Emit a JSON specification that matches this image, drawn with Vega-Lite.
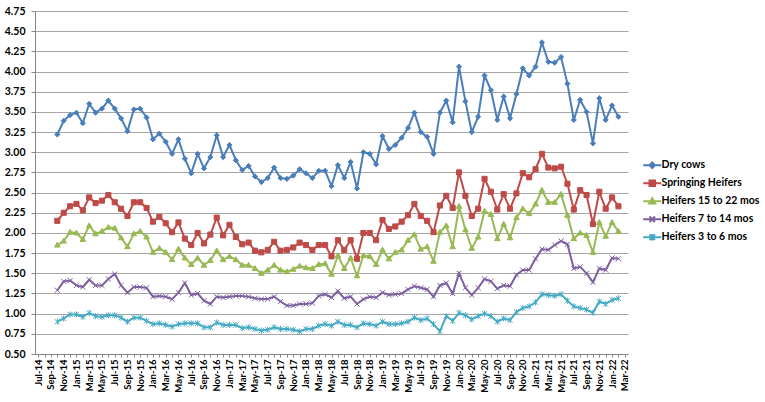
{
  "$schema": "https://vega.github.io/schema/vega-lite/v6.json",
  "description": "Monthly prices by cattle class, Oct-14 to Feb-22",
  "autosize": {"type": "none"},
  "padding": {"left": 35, "top": 11, "right": 137, "bottom": 48},
  "width": 593,
  "height": 343,
  "background": "white",
  "data": {
    "values": [
      {"month": "Oct-14", "Dry cows": 3.22, "Springing Heifers": 2.15, "Heifers  15 to 22 mos": 1.85, "Heifers  7 to 14 mos": 1.29, "Heifers 3 to 6 mos": 0.90},
      {"month": "Nov-14", "Dry cows": 3.39, "Springing Heifers": 2.25, "Heifers  15 to 22 mos": 1.90, "Heifers  7 to 14 mos": 1.40, "Heifers 3 to 6 mos": 0.94},
      {"month": "Dec-14", "Dry cows": 3.46, "Springing Heifers": 2.33, "Heifers  15 to 22 mos": 2.01, "Heifers  7 to 14 mos": 1.41, "Heifers 3 to 6 mos": 0.99},
      {"month": "Jan-15", "Dry cows": 3.49, "Springing Heifers": 2.36, "Heifers  15 to 22 mos": 2.00, "Heifers  7 to 14 mos": 1.35, "Heifers 3 to 6 mos": 0.99},
      {"month": "Feb-15", "Dry cows": 3.36, "Springing Heifers": 2.28, "Heifers  15 to 22 mos": 1.92, "Heifers  7 to 14 mos": 1.33, "Heifers 3 to 6 mos": 0.96},
      {"month": "Mar-15", "Dry cows": 3.60, "Springing Heifers": 2.44, "Heifers  15 to 22 mos": 2.09, "Heifers  7 to 14 mos": 1.42, "Heifers 3 to 6 mos": 1.01},
      {"month": "Apr-15", "Dry cows": 3.49, "Springing Heifers": 2.37, "Heifers  15 to 22 mos": 1.99, "Heifers  7 to 14 mos": 1.35, "Heifers 3 to 6 mos": 0.97},
      {"month": "May-15", "Dry cows": 3.54, "Springing Heifers": 2.40, "Heifers  15 to 22 mos": 2.02, "Heifers  7 to 14 mos": 1.35, "Heifers 3 to 6 mos": 0.96},
      {"month": "Jun-15", "Dry cows": 3.64, "Springing Heifers": 2.47, "Heifers  15 to 22 mos": 2.07, "Heifers  7 to 14 mos": 1.43, "Heifers 3 to 6 mos": 0.98},
      {"month": "Jul-15", "Dry cows": 3.54, "Springing Heifers": 2.38, "Heifers  15 to 22 mos": 2.06, "Heifers  7 to 14 mos": 1.49, "Heifers 3 to 6 mos": 0.98},
      {"month": "Aug-15", "Dry cows": 3.42, "Springing Heifers": 2.30, "Heifers  15 to 22 mos": 1.94, "Heifers  7 to 14 mos": 1.35, "Heifers 3 to 6 mos": 0.95},
      {"month": "Sep-15", "Dry cows": 3.26, "Springing Heifers": 2.21, "Heifers  15 to 22 mos": 1.83, "Heifers  7 to 14 mos": 1.26, "Heifers 3 to 6 mos": 0.90},
      {"month": "Oct-15", "Dry cows": 3.53, "Springing Heifers": 2.38, "Heifers  15 to 22 mos": 1.99, "Heifers  7 to 14 mos": 1.33, "Heifers 3 to 6 mos": 0.95},
      {"month": "Nov-15", "Dry cows": 3.54, "Springing Heifers": 2.38, "Heifers  15 to 22 mos": 2.02, "Heifers  7 to 14 mos": 1.33, "Heifers 3 to 6 mos": 0.95},
      {"month": "Dec-15", "Dry cows": 3.43, "Springing Heifers": 2.31, "Heifers  15 to 22 mos": 1.95, "Heifers  7 to 14 mos": 1.32, "Heifers 3 to 6 mos": 0.91},
      {"month": "Jan-16", "Dry cows": 3.16, "Springing Heifers": 2.14, "Heifers  15 to 22 mos": 1.76, "Heifers  7 to 14 mos": 1.21, "Heifers 3 to 6 mos": 0.87},
      {"month": "Feb-16", "Dry cows": 3.23, "Springing Heifers": 2.20, "Heifers  15 to 22 mos": 1.81, "Heifers  7 to 14 mos": 1.22, "Heifers 3 to 6 mos": 0.88},
      {"month": "Mar-16", "Dry cows": 3.13, "Springing Heifers": 2.12, "Heifers  15 to 22 mos": 1.76, "Heifers  7 to 14 mos": 1.21, "Heifers 3 to 6 mos": 0.86},
      {"month": "Apr-16", "Dry cows": 2.98, "Springing Heifers": 2.01, "Heifers  15 to 22 mos": 1.67, "Heifers  7 to 14 mos": 1.18, "Heifers 3 to 6 mos": 0.84},
      {"month": "May-16", "Dry cows": 3.16, "Springing Heifers": 2.13, "Heifers  15 to 22 mos": 1.80, "Heifers  7 to 14 mos": 1.26, "Heifers 3 to 6 mos": 0.87},
      {"month": "Jun-16", "Dry cows": 2.92, "Springing Heifers": 1.93, "Heifers  15 to 22 mos": 1.69, "Heifers  7 to 14 mos": 1.38, "Heifers 3 to 6 mos": 0.88},
      {"month": "Jul-16", "Dry cows": 2.74, "Springing Heifers": 1.85, "Heifers  15 to 22 mos": 1.61, "Heifers  7 to 14 mos": 1.23, "Heifers 3 to 6 mos": 0.88},
      {"month": "Aug-16", "Dry cows": 2.98, "Springing Heifers": 2.00, "Heifers  15 to 22 mos": 1.69, "Heifers  7 to 14 mos": 1.25, "Heifers 3 to 6 mos": 0.88},
      {"month": "Sep-16", "Dry cows": 2.80, "Springing Heifers": 1.87, "Heifers  15 to 22 mos": 1.60, "Heifers  7 to 14 mos": 1.16, "Heifers 3 to 6 mos": 0.83},
      {"month": "Oct-16", "Dry cows": 2.94, "Springing Heifers": 1.98, "Heifers  15 to 22 mos": 1.66, "Heifers  7 to 14 mos": 1.12, "Heifers 3 to 6 mos": 0.83},
      {"month": "Nov-16", "Dry cows": 3.21, "Springing Heifers": 2.19, "Heifers  15 to 22 mos": 1.78, "Heifers  7 to 14 mos": 1.21, "Heifers 3 to 6 mos": 0.89},
      {"month": "Dec-16", "Dry cows": 2.94, "Springing Heifers": 1.97, "Heifers  15 to 22 mos": 1.67, "Heifers  7 to 14 mos": 1.20, "Heifers 3 to 6 mos": 0.86},
      {"month": "Jan-17", "Dry cows": 3.09, "Springing Heifers": 2.10, "Heifers  15 to 22 mos": 1.71, "Heifers  7 to 14 mos": 1.21, "Heifers 3 to 6 mos": 0.86},
      {"month": "Feb-17", "Dry cows": 2.90, "Springing Heifers": 1.95, "Heifers  15 to 22 mos": 1.67, "Heifers  7 to 14 mos": 1.22, "Heifers 3 to 6 mos": 0.86},
      {"month": "Mar-17", "Dry cows": 2.78, "Springing Heifers": 1.86, "Heifers  15 to 22 mos": 1.60, "Heifers  7 to 14 mos": 1.22, "Heifers 3 to 6 mos": 0.82},
      {"month": "Apr-17", "Dry cows": 2.83, "Springing Heifers": 1.88, "Heifers  15 to 22 mos": 1.60, "Heifers  7 to 14 mos": 1.21, "Heifers 3 to 6 mos": 0.83},
      {"month": "May-17", "Dry cows": 2.70, "Springing Heifers": 1.78, "Heifers  15 to 22 mos": 1.56, "Heifers  7 to 14 mos": 1.19, "Heifers 3 to 6 mos": 0.81},
      {"month": "Jun-17", "Dry cows": 2.63, "Springing Heifers": 1.76, "Heifers  15 to 22 mos": 1.50, "Heifers  7 to 14 mos": 1.18, "Heifers 3 to 6 mos": 0.79},
      {"month": "Jul-17", "Dry cows": 2.68, "Springing Heifers": 1.79, "Heifers  15 to 22 mos": 1.54, "Heifers  7 to 14 mos": 1.18, "Heifers 3 to 6 mos": 0.80},
      {"month": "Aug-17", "Dry cows": 2.81, "Springing Heifers": 1.89, "Heifers  15 to 22 mos": 1.60, "Heifers  7 to 14 mos": 1.21, "Heifers 3 to 6 mos": 0.83},
      {"month": "Sep-17", "Dry cows": 2.68, "Springing Heifers": 1.78, "Heifers  15 to 22 mos": 1.54, "Heifers  7 to 14 mos": 1.15, "Heifers 3 to 6 mos": 0.81},
      {"month": "Oct-17", "Dry cows": 2.67, "Springing Heifers": 1.79, "Heifers  15 to 22 mos": 1.52, "Heifers  7 to 14 mos": 1.10, "Heifers 3 to 6 mos": 0.81},
      {"month": "Nov-17", "Dry cows": 2.71, "Springing Heifers": 1.82, "Heifers  15 to 22 mos": 1.55, "Heifers  7 to 14 mos": 1.10, "Heifers 3 to 6 mos": 0.80},
      {"month": "Dec-17", "Dry cows": 2.79, "Springing Heifers": 1.88, "Heifers  15 to 22 mos": 1.59, "Heifers  7 to 14 mos": 1.12, "Heifers 3 to 6 mos": 0.78},
      {"month": "Jan-18", "Dry cows": 2.74, "Springing Heifers": 1.85, "Heifers  15 to 22 mos": 1.57, "Heifers  7 to 14 mos": 1.12, "Heifers 3 to 6 mos": 0.81},
      {"month": "Feb-18", "Dry cows": 2.68, "Springing Heifers": 1.79, "Heifers  15 to 22 mos": 1.56, "Heifers  7 to 14 mos": 1.13, "Heifers 3 to 6 mos": 0.81},
      {"month": "Mar-18", "Dry cows": 2.77, "Springing Heifers": 1.85, "Heifers  15 to 22 mos": 1.61, "Heifers  7 to 14 mos": 1.22, "Heifers 3 to 6 mos": 0.85},
      {"month": "Apr-18", "Dry cows": 2.77, "Springing Heifers": 1.85, "Heifers  15 to 22 mos": 1.62, "Heifers  7 to 14 mos": 1.24, "Heifers 3 to 6 mos": 0.87},
      {"month": "May-18", "Dry cows": 2.58, "Springing Heifers": 1.71, "Heifers  15 to 22 mos": 1.49, "Heifers  7 to 14 mos": 1.20, "Heifers 3 to 6 mos": 0.85},
      {"month": "Jun-18", "Dry cows": 2.84, "Springing Heifers": 1.91, "Heifers  15 to 22 mos": 1.72, "Heifers  7 to 14 mos": 1.28, "Heifers 3 to 6 mos": 0.90},
      {"month": "Jul-18", "Dry cows": 2.68, "Springing Heifers": 1.79, "Heifers  15 to 22 mos": 1.56, "Heifers  7 to 14 mos": 1.19, "Heifers 3 to 6 mos": 0.86},
      {"month": "Aug-18", "Dry cows": 2.88, "Springing Heifers": 1.91, "Heifers  15 to 22 mos": 1.69, "Heifers  7 to 14 mos": 1.21, "Heifers 3 to 6 mos": 0.86},
      {"month": "Sep-18", "Dry cows": 2.55, "Springing Heifers": 1.68, "Heifers  15 to 22 mos": 1.47, "Heifers  7 to 14 mos": 1.12, "Heifers 3 to 6 mos": 0.83},
      {"month": "Oct-18", "Dry cows": 3.00, "Springing Heifers": 2.00, "Heifers  15 to 22 mos": 1.72, "Heifers  7 to 14 mos": 1.18, "Heifers 3 to 6 mos": 0.88},
      {"month": "Nov-18", "Dry cows": 2.98, "Springing Heifers": 2.00, "Heifers  15 to 22 mos": 1.71, "Heifers  7 to 14 mos": 1.21, "Heifers 3 to 6 mos": 0.87},
      {"month": "Dec-18", "Dry cows": 2.85, "Springing Heifers": 1.91, "Heifers  15 to 22 mos": 1.61, "Heifers  7 to 14 mos": 1.20, "Heifers 3 to 6 mos": 0.85},
      {"month": "Jan-19", "Dry cows": 3.20, "Springing Heifers": 2.16, "Heifers  15 to 22 mos": 1.79, "Heifers  7 to 14 mos": 1.26, "Heifers 3 to 6 mos": 0.90},
      {"month": "Feb-19", "Dry cows": 3.04, "Springing Heifers": 2.05, "Heifers  15 to 22 mos": 1.68, "Heifers  7 to 14 mos": 1.23, "Heifers 3 to 6 mos": 0.87},
      {"month": "Mar-19", "Dry cows": 3.09, "Springing Heifers": 2.08, "Heifers  15 to 22 mos": 1.76, "Heifers  7 to 14 mos": 1.24, "Heifers 3 to 6 mos": 0.87},
      {"month": "Apr-19", "Dry cows": 3.18, "Springing Heifers": 2.14, "Heifers  15 to 22 mos": 1.79, "Heifers  7 to 14 mos": 1.25, "Heifers 3 to 6 mos": 0.88},
      {"month": "May-19", "Dry cows": 3.30, "Springing Heifers": 2.22, "Heifers  15 to 22 mos": 1.91, "Heifers  7 to 14 mos": 1.30, "Heifers 3 to 6 mos": 0.90},
      {"month": "Jun-19", "Dry cows": 3.49, "Springing Heifers": 2.36, "Heifers  15 to 22 mos": 1.98, "Heifers  7 to 14 mos": 1.34, "Heifers 3 to 6 mos": 0.95},
      {"month": "Jul-19", "Dry cows": 3.25, "Springing Heifers": 2.21, "Heifers  15 to 22 mos": 1.80, "Heifers  7 to 14 mos": 1.32, "Heifers 3 to 6 mos": 0.92},
      {"month": "Aug-19", "Dry cows": 3.19, "Springing Heifers": 2.15, "Heifers  15 to 22 mos": 1.83, "Heifers  7 to 14 mos": 1.30, "Heifers 3 to 6 mos": 0.94},
      {"month": "Sep-19", "Dry cows": 2.98, "Springing Heifers": 2.01, "Heifers  15 to 22 mos": 1.65, "Heifers  7 to 14 mos": 1.21, "Heifers 3 to 6 mos": 0.87},
      {"month": "Oct-19", "Dry cows": 3.49, "Springing Heifers": 2.34, "Heifers  15 to 22 mos": 2.01, "Heifers  7 to 14 mos": 1.35, "Heifers 3 to 6 mos": 0.78},
      {"month": "Nov-19", "Dry cows": 3.64, "Springing Heifers": 2.46, "Heifers  15 to 22 mos": 2.09, "Heifers  7 to 14 mos": 1.38, "Heifers 3 to 6 mos": 0.97},
      {"month": "Dec-19", "Dry cows": 3.37, "Springing Heifers": 2.31, "Heifers  15 to 22 mos": 1.83, "Heifers  7 to 14 mos": 1.25, "Heifers 3 to 6 mos": 0.91},
      {"month": "Jan-20", "Dry cows": 4.06, "Springing Heifers": 2.75, "Heifers  15 to 22 mos": 2.33, "Heifers  7 to 14 mos": 1.50, "Heifers 3 to 6 mos": 1.01},
      {"month": "Feb-20", "Dry cows": 3.63, "Springing Heifers": 2.46, "Heifers  15 to 22 mos": 2.04, "Heifers  7 to 14 mos": 1.32, "Heifers 3 to 6 mos": 0.98},
      {"month": "Mar-20", "Dry cows": 3.25, "Springing Heifers": 2.21, "Heifers  15 to 22 mos": 1.81, "Heifers  7 to 14 mos": 1.23, "Heifers 3 to 6 mos": 0.93},
      {"month": "Apr-20", "Dry cows": 3.44, "Springing Heifers": 2.30, "Heifers  15 to 22 mos": 1.95, "Heifers  7 to 14 mos": 1.32, "Heifers 3 to 6 mos": 0.97},
      {"month": "May-20", "Dry cows": 3.95, "Springing Heifers": 2.67, "Heifers  15 to 22 mos": 2.27, "Heifers  7 to 14 mos": 1.43, "Heifers 3 to 6 mos": 1.00},
      {"month": "Jun-20", "Dry cows": 3.77, "Springing Heifers": 2.51, "Heifers  15 to 22 mos": 2.23, "Heifers  7 to 14 mos": 1.40, "Heifers 3 to 6 mos": 0.97},
      {"month": "Jul-20", "Dry cows": 3.40, "Springing Heifers": 2.29, "Heifers  15 to 22 mos": 1.93, "Heifers  7 to 14 mos": 1.31, "Heifers 3 to 6 mos": 0.90},
      {"month": "Aug-20", "Dry cows": 3.69, "Springing Heifers": 2.48, "Heifers  15 to 22 mos": 2.11, "Heifers  7 to 14 mos": 1.35, "Heifers 3 to 6 mos": 0.94},
      {"month": "Sep-20", "Dry cows": 3.42, "Springing Heifers": 2.30, "Heifers  15 to 22 mos": 1.94, "Heifers  7 to 14 mos": 1.34, "Heifers 3 to 6 mos": 0.92},
      {"month": "Oct-20", "Dry cows": 3.72, "Springing Heifers": 2.49, "Heifers  15 to 22 mos": 2.19, "Heifers  7 to 14 mos": 1.48, "Heifers 3 to 6 mos": 1.02},
      {"month": "Nov-20", "Dry cows": 4.04, "Springing Heifers": 2.74, "Heifers  15 to 22 mos": 2.30, "Heifers  7 to 14 mos": 1.54, "Heifers 3 to 6 mos": 1.07},
      {"month": "Dec-20", "Dry cows": 3.95, "Springing Heifers": 2.69, "Heifers  15 to 22 mos": 2.24, "Heifers  7 to 14 mos": 1.54, "Heifers 3 to 6 mos": 1.09},
      {"month": "Jan-21", "Dry cows": 4.06, "Springing Heifers": 2.79, "Heifers  15 to 22 mos": 2.36, "Heifers  7 to 14 mos": 1.68, "Heifers 3 to 6 mos": 1.14},
      {"month": "Feb-21", "Dry cows": 4.36, "Springing Heifers": 2.98, "Heifers  15 to 22 mos": 2.53, "Heifers  7 to 14 mos": 1.80, "Heifers 3 to 6 mos": 1.24},
      {"month": "Mar-21", "Dry cows": 4.12, "Springing Heifers": 2.81, "Heifers  15 to 22 mos": 2.38, "Heifers  7 to 14 mos": 1.79, "Heifers 3 to 6 mos": 1.23},
      {"month": "Apr-21", "Dry cows": 4.11, "Springing Heifers": 2.80, "Heifers  15 to 22 mos": 2.38, "Heifers  7 to 14 mos": 1.85, "Heifers 3 to 6 mos": 1.22},
      {"month": "May-21", "Dry cows": 4.18, "Springing Heifers": 2.82, "Heifers  15 to 22 mos": 2.48, "Heifers  7 to 14 mos": 1.90, "Heifers 3 to 6 mos": 1.24},
      {"month": "Jun-21", "Dry cows": 3.85, "Springing Heifers": 2.61, "Heifers  15 to 22 mos": 2.22, "Heifers  7 to 14 mos": 1.86, "Heifers 3 to 6 mos": 1.16},
      {"month": "Jul-21", "Dry cows": 3.40, "Springing Heifers": 2.29, "Heifers  15 to 22 mos": 1.93, "Heifers  7 to 14 mos": 1.56, "Heifers 3 to 6 mos": 1.09},
      {"month": "Aug-21", "Dry cows": 3.65, "Springing Heifers": 2.53, "Heifers  15 to 22 mos": 2.00, "Heifers  7 to 14 mos": 1.58, "Heifers 3 to 6 mos": 1.07},
      {"month": "Sep-21", "Dry cows": 3.50, "Springing Heifers": 2.47, "Heifers  15 to 22 mos": 1.97, "Heifers  7 to 14 mos": 1.50, "Heifers 3 to 6 mos": 1.05},
      {"month": "Oct-21", "Dry cows": 3.11, "Springing Heifers": 2.11, "Heifers  15 to 22 mos": 1.76, "Heifers  7 to 14 mos": 1.39, "Heifers 3 to 6 mos": 1.01},
      {"month": "Nov-21", "Dry cows": 3.67, "Springing Heifers": 2.51, "Heifers  15 to 22 mos": 2.13, "Heifers  7 to 14 mos": 1.56, "Heifers 3 to 6 mos": 1.15},
      {"month": "Dec-21", "Dry cows": 3.40, "Springing Heifers": 2.30, "Heifers  15 to 22 mos": 1.96, "Heifers  7 to 14 mos": 1.54, "Heifers 3 to 6 mos": 1.12},
      {"month": "Jan-22", "Dry cows": 3.58, "Springing Heifers": 2.44, "Heifers  15 to 22 mos": 2.13, "Heifers  7 to 14 mos": 1.69, "Heifers 3 to 6 mos": 1.17},
      {"month": "Feb-22", "Dry cows": 3.44, "Springing Heifers": 2.33, "Heifers  15 to 22 mos": 2.02, "Heifers  7 to 14 mos": 1.68, "Heifers 3 to 6 mos": 1.19}
    ]
  },
  "transform": [
    {
      "fold": ["Dry cows", "Springing Heifers", "Heifers  15 to 22 mos", "Heifers  7 to 14 mos", "Heifers 3 to 6 mos"],
      "as": ["series", "price"]
    }
  ],
  "encoding": {
    "x": {
      "field": "month",
      "type": "ordinal",
      "title": null,
      "scale": {
        "type": "point",
        "padding": 0.5,
        "domain": [
          "Jul-14", "Aug-14", "Sep-14", "Oct-14", "Nov-14", "Dec-14",
          "Jan-15", "Feb-15", "Mar-15", "Apr-15", "May-15", "Jun-15", "Jul-15", "Aug-15", "Sep-15", "Oct-15", "Nov-15", "Dec-15",
          "Jan-16", "Feb-16", "Mar-16", "Apr-16", "May-16", "Jun-16", "Jul-16", "Aug-16", "Sep-16", "Oct-16", "Nov-16", "Dec-16",
          "Jan-17", "Feb-17", "Mar-17", "Apr-17", "May-17", "Jun-17", "Jul-17", "Aug-17", "Sep-17", "Oct-17", "Nov-17", "Dec-17",
          "Jan-18", "Feb-18", "Mar-18", "Apr-18", "May-18", "Jun-18", "Jul-18", "Aug-18", "Sep-18", "Oct-18", "Nov-18", "Dec-18",
          "Jan-19", "Feb-19", "Mar-19", "Apr-19", "May-19", "Jun-19", "Jul-19", "Aug-19", "Sep-19", "Oct-19", "Nov-19", "Dec-19",
          "Jan-20", "Feb-20", "Mar-20", "Apr-20", "May-20", "Jun-20", "Jul-20", "Aug-20", "Sep-20", "Oct-20", "Nov-20", "Dec-20",
          "Jan-21", "Feb-21", "Mar-21", "Apr-21", "May-21", "Jun-21", "Jul-21", "Aug-21", "Sep-21", "Oct-21", "Nov-21", "Dec-21",
          "Jan-22", "Feb-22", "Mar-22"
        ]
      },
      "axis": {
        "labelExpr": "indexof(['Jan', 'Mar', 'May', 'Jul', 'Sep', 'Nov'], slice(datum.value, 0, 3)) >= 0 ? datum.value : ''",
        "labelOverlap": false,
        "labelAngle": 270,
        "labelFontSize": 9.5,
        "labelPadding": 2,
        "tickSize": 3,
        "grid": false
      }
    },
    "y": {
      "field": "price",
      "type": "quantitative",
      "title": null,
      "scale": {"domain": [0.5, 4.75], "nice": false, "zero": false},
      "axis": {
        "values": [0.5, 0.75, 1, 1.25, 1.5, 1.75, 2, 2.25, 2.5, 2.75, 3, 3.25, 3.5, 3.75, 4, 4.25, 4.5, 4.75],
        "format": ".2f",
        "labelFontSize": 10.5,
        "labelPadding": 6,
        "grid": true,
        "gridColor": "#a6a6a6",
        "gridWidth": 1
      }
    }
  },
  "layer": [
    {
      "transform": [{"filter": {"field": "series", "equal": "Dry cows"}}],
      "encoding": {
        "color": {
          "field": "series", "type": "nominal",
          "scale": {"domain": ["Dry cows"], "range": ["#4a7ebb"]},
          "legend": {"title": null, "legendX": 612, "legendY": 149, "symbolType": "M-3.3,0L3.3,0M0,-1L1,0L0,1L-1,0Z"}
        }
      },
      "layer": [
        {"mark": {"type": "line", "strokeWidth": 2}},
        {"mark": {"type": "point", "filled": true, "opacity": 1, "size": 26, "strokeWidth": 1, "stroke": "#4a7ebb", "shape": "M0,-1L1,0L0,1L-1,0Z"}}
      ]
    },
    {
      "transform": [{"filter": {"field": "series", "equal": "Springing Heifers"}}],
      "encoding": {
        "color": {
          "field": "series", "type": "nominal",
          "scale": {"domain": ["Springing Heifers"], "range": ["#be4b48"]},
          "legend": {"title": null, "legendX": 612, "legendY": 167, "symbolType": "M-3.3,0L3.3,0M-1,-1L1,-1L1,1L-1,1Z"}
        }
      },
      "layer": [
        {"mark": {"type": "line", "strokeWidth": 2}},
        {"mark": {"type": "point", "filled": true, "opacity": 1, "size": 26, "strokeWidth": 1, "stroke": "#be4b48", "shape": "M-1,-1L1,-1L1,1L-1,1Z"}}
      ]
    },
    {
      "transform": [{"filter": {"field": "series", "equal": "Heifers  15 to 22 mos"}}],
      "encoding": {
        "color": {
          "field": "series", "type": "nominal",
          "scale": {"domain": ["Heifers  15 to 22 mos"], "range": ["#98b954"]},
          "legend": {"title": null, "legendX": 612, "legendY": 185, "symbolType": "M-3.3,0L3.3,0M0,-1.1L1.1,0.8L-1.1,0.8Z"}
        }
      },
      "layer": [
        {"mark": {"type": "line", "strokeWidth": 2}},
        {"mark": {"type": "point", "filled": true, "opacity": 1, "size": 26, "strokeWidth": 1, "stroke": "#98b954", "shape": "M0,-1.1L1.1,0.8L-1.1,0.8Z"}}
      ]
    },
    {
      "transform": [{"filter": {"field": "series", "equal": "Heifers  7 to 14 mos"}}],
      "encoding": {
        "color": {
          "field": "series", "type": "nominal",
          "scale": {"domain": ["Heifers  7 to 14 mos"], "range": ["#7d60a0"]},
          "legend": {"title": null, "legendX": 612, "legendY": 203, "symbolType": "M-3.3,0L3.3,0M-1,-1L1,1M-1,1L1,-1"}
        }
      },
      "layer": [
        {"mark": {"type": "line", "strokeWidth": 2}},
        {"mark": {"type": "point", "filled": true, "opacity": 1, "size": 26, "strokeWidth": 1, "stroke": "#7d60a0", "shape": "M-1,-1L1,1M-1,1L1,-1"}}
      ]
    },
    {
      "transform": [{"filter": {"field": "series", "equal": "Heifers 3 to 6 mos"}}],
      "encoding": {
        "color": {
          "field": "series", "type": "nominal",
          "scale": {"domain": ["Heifers 3 to 6 mos"], "range": ["#46aac5"]},
          "legend": {"title": null, "legendX": 612, "legendY": 221, "symbolType": "M-3.3,0L3.3,0M-1,-1L1,1M-1,1L1,-1M0,-1.2L0,1.2"}
        }
      },
      "layer": [
        {"mark": {"type": "line", "strokeWidth": 2}},
        {"mark": {"type": "point", "filled": true, "opacity": 1, "size": 26, "strokeWidth": 1, "stroke": "#46aac5", "shape": "M-1,-1L1,1M-1,1L1,-1M0,-1.2L0,1.2"}}
      ]
    }
  ],
  "resolve": {"scale": {"color": "independent"}},
  "config": {
    "view": {"stroke": null},
    "font": "Lato",
    "axis": {
      "labelFont": "Lato",
      "labelFontWeight": "bold",
      "labelColor": "#000000",
      "domainColor": "#868686",
      "domainWidth": 1,
      "tickColor": "#868686",
      "tickSize": 4
    },
    "legend": {
      "orient": "none",
      "symbolSize": 30,
      "symbolStrokeWidth": 2,
      "labelOffset": 4,
      "labelFontSize": 10.5,
      "labelFontWeight": "bold",
      "labelFont": "Lato",
      "labelColor": "#000000",
      "labelLimit": 200
    }
  }
}
